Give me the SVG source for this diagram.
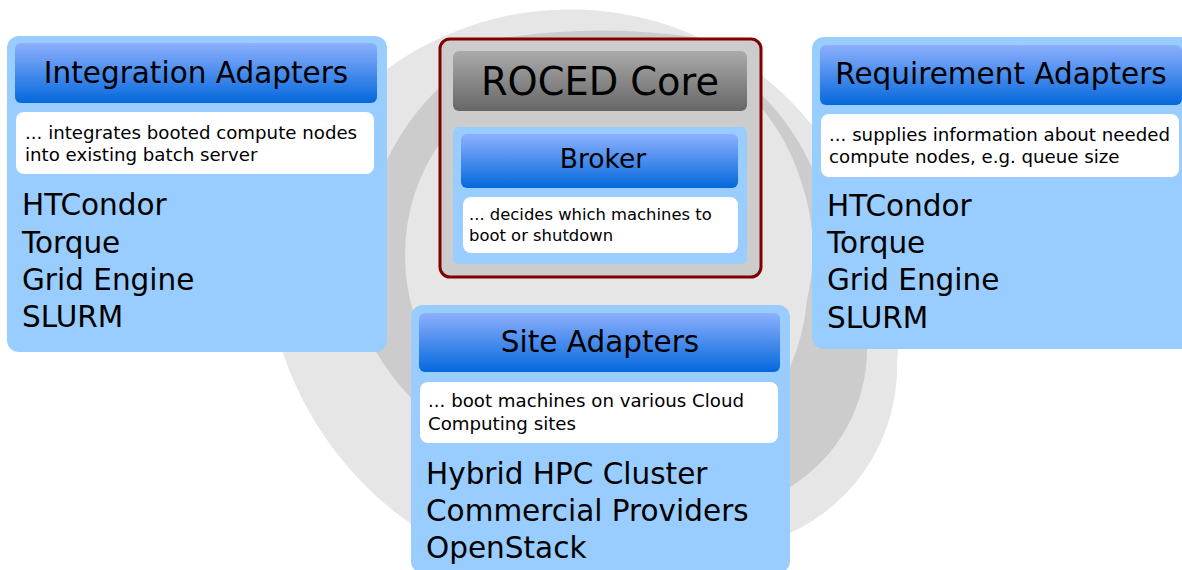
<svg xmlns="http://www.w3.org/2000/svg" width="1182" height="570" viewBox="0 0 1182 570">
<defs>
<linearGradient id="blueHead" x1="0" y1="0" x2="0" y2="1">
<stop offset="0" stop-color="#8db0fd"/>
<stop offset="1" stop-color="#0468dc"/>
</linearGradient>
<linearGradient id="grayHead" x1="0" y1="0" x2="0" y2="1">
<stop offset="0" stop-color="#ababab"/>
<stop offset="1" stop-color="#666666"/>
</linearGradient>
<style>
.panel{fill:#99ccff}
.head{fill:url(#blueHead)}
.desc{fill:#ffffff}
.t{font-family:"DejaVu Sans","Liberation Sans",sans-serif;fill:#000000}
.h29{font-size:29.5px;text-anchor:middle}
.item{font-size:29.5px}
.d18{font-size:18.2px}
.d16{font-size:16.4px}
</style>
</defs>
<rect width="1182" height="570" fill="#ffffff"/>
<g id="background">
<path fill="#e6e6e6" d="M 282 350 A 311 311 0 0 1 387 69 A 311 311 0 0 1 812 125 A 260 260 0 0 1 897 360 A 183 183 0 0 1 790 533 L 600 575 L 411 524 A 342 342 0 0 1 282 350 Z"/>
<path fill="#cccccc" d="M 375 350 A 250 250 0 0 1 387 160 A 250 250 0 0 1 440 87 A 120 120 0 0 1 490 40 A 650 650 0 0 1 700 38 A 150 150 0 0 1 760 93 A 250 250 0 0 1 813 170 A 250 250 0 0 1 867 350 A 162 162 0 0 1 790 487 L 600 560 L 411 398 A 260 260 0 0 1 375 350 Z"/>
<path fill="#e6e6e6" d="M 440 143 A 198 198 0 0 0 405 255 A 198 198 0 0 0 440 367 L 600 460 L 790 367 A 215 215 0 0 0 807 300 A 215 215 0 0 0 800 178 A 215 215 0 0 0 760 106 L 700 60 L 600 45 Z"/>
</g>
<g id="connectors"/>
<g id="integration-adapters">
<rect class="panel" x="7" y="36" width="380" height="316" rx="12"/>
<rect class="head" x="15" y="43" width="362" height="60" rx="6"/>
<text class="t h29" x="196" y="83">Integration Adapters</text>
<rect class="desc" x="16" y="112" width="358" height="62" rx="8"/>
<text class="t d18" x="25" y="139">... integrates booted compute nodes</text>
<text class="t d18" x="25" y="161">into existing batch server</text>
<text class="t item" x="22" y="215">HTCondor</text>
<text class="t item" x="22" y="253">Torque</text>
<text class="t item" x="22" y="290">Grid Engine</text>
<text class="t item" x="22" y="327">SLURM</text>
</g>
<g id="requirement-adapters">
<rect class="panel" x="812" y="37" width="382" height="312" rx="12"/>
<rect class="head" x="820" y="45" width="362" height="60" rx="6"/>
<text class="t h29" x="1001" y="84">Requirement Adapters</text>
<rect class="desc" x="821" y="114" width="358" height="63" rx="8"/>
<text class="t d18" x="829" y="141">... supplies information about needed</text>
<text class="t d18" x="829" y="163">compute nodes, e.g. queue size</text>
<text class="t item" x="827" y="216">HTCondor</text>
<text class="t item" x="827" y="253">Torque</text>
<text class="t item" x="827" y="290">Grid Engine</text>
<text class="t item" x="827" y="328">SLURM</text>
</g>
<g id="roced-core">
<rect x="440" y="39" width="321" height="238" rx="10" fill="#cccccc" stroke="#800000" stroke-width="3"/>
<rect x="453" y="51" width="294" height="60" rx="6" fill="url(#grayHead)"/>
<text class="t" x="600" y="95" font-size="38.3" text-anchor="middle">ROCED Core</text>
<g id="broker">
<rect class="panel" x="453" y="127" width="294" height="137" rx="6"/>
<rect class="head" x="461" y="134" width="277" height="54" rx="6"/>
<text class="t" x="603" y="168" font-size="26.5" text-anchor="middle">Broker</text>
<rect class="desc" x="463" y="197" width="275" height="56" rx="8"/>
<text class="t d16" x="469" y="220">... decides which machines to</text>
<text class="t d16" x="469" y="241">boot or shutdown</text>
</g>
</g>
<g id="site-adapters">
<rect class="panel" x="411" y="305" width="379" height="268" rx="12"/>
<rect class="head" x="419" y="313" width="361" height="59" rx="6"/>
<text class="t h29" x="600" y="352">Site Adapters</text>
<rect class="desc" x="420" y="382" width="358" height="61" rx="8"/>
<text class="t d18" x="428" y="407">... boot machines on various Cloud</text>
<text class="t d18" x="428" y="430">Computing sites</text>
<text class="t item" x="426" y="484">Hybrid HPC Cluster</text>
<text class="t item" x="426" y="521">Commercial Providers</text>
<text class="t item" x="426" y="558">OpenStack</text>
</g>
</svg>
